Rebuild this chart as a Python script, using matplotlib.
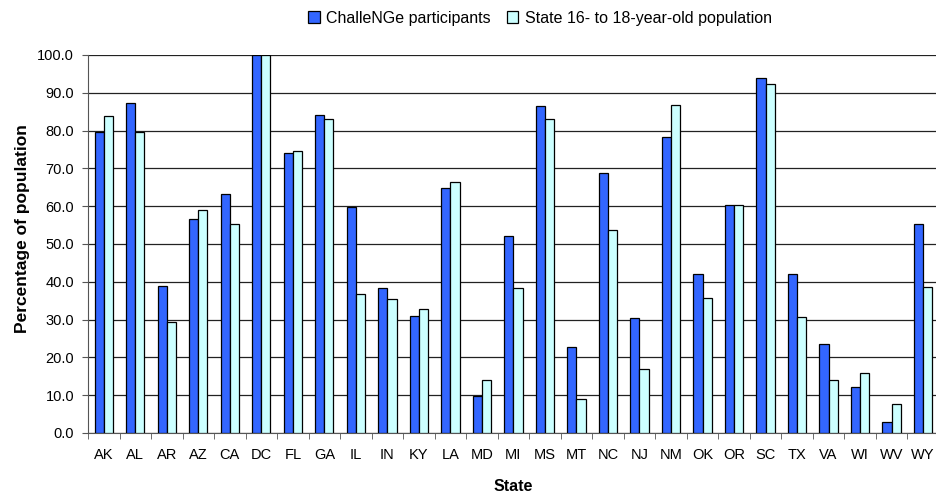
import matplotlib.pyplot as plt
import numpy as np

plt.rcParams['font.family'] = ['Liberation Sans', 'DejaVu Sans']

states = ['AK', 'AL', 'AR', 'AZ', 'CA', 'DC', 'FL', 'GA', 'IL', 'IN', 'KY', 'LA', 'MD', 'MI',
          'MS', 'MT', 'NC', 'NJ', 'NM', 'OK', 'OR', 'SC', 'TX', 'VA', 'WI', 'WV', 'WY']
participants = [79.5, 87.2, 38.9, 56.7, 63.3, 100.0, 74.1, 84.1, 59.7, 38.4, 30.9, 64.9, 9.9, 52.1,
                86.5, 22.7, 68.8, 30.3, 78.2, 42.0, 60.3, 93.9, 42.0, 23.5, 12.2, 3.0, 55.4]
population = [83.8, 79.5, 29.4, 59.1, 55.4, 100.0, 74.7, 83.1, 36.8, 35.5, 32.8, 66.4, 13.9, 38.3,
              83.1, 8.9, 53.6, 16.8, 86.7, 35.8, 60.3, 92.4, 30.6, 14.0, 15.9, 7.6, 38.5]
yticks = np.arange(0, 101, 10)

fig = plt.figure(figsize=(9.37, 4.95), dpi=100)
ax = fig.add_axes([88 / 937, 1 - 433 / 495, 1 - 88 / 937 + 0.002, (433 - 55) / 495])

x = np.arange(len(states))
w = 0.29
ax.bar(x - w / 2, participants, w, color='#3366FF', edgecolor='black', linewidth=0.9,
       label='ChalleNGe participants', zorder=3)
ax.bar(x + w / 2, population, w, color='#CCFFFF', edgecolor='black', linewidth=0.9,
       label='State 16- to 18-year-old population', zorder=3)

ax.set_xlim(-0.5, len(states) - 0.5)
ax.set_ylim(0, 100)
ax.set_yticks(yticks)
ax.set_yticklabels(['%.1f' % v for v in yticks], fontsize=10.5)
ax.yaxis.grid(True, color='#222222', linewidth=0.9, zorder=0)
ax.set_xticks(x)
ax.set_xticklabels(states, fontsize=10.5)
ax.set_xticks(np.arange(-0.5, len(states), 1), minor=True)
ax.tick_params(axis='x', which='major', length=0, pad=11)
ax.tick_params(axis='x', which='minor', length=4, color='#555555')
ax.tick_params(axis='y', length=4, color='#555555', pad=6)

for s in ['top', 'right']:
    ax.spines[s].set_visible(False)
ax.spines['left'].set_color('#555555')
ax.spines['bottom'].set_color('#555555')

ax.set_ylabel('Percentage of population', fontsize=12.5, fontweight='bold')
ax.yaxis.set_label_coords(-0.068, 0.542)
ax.set_xlabel('State', fontsize=11.5, fontweight='bold', labelpad=12)

fig.legend(loc='center', bbox_to_anchor=(0.576, 0.963), ncol=2, frameon=False, fontsize=11.5,
           handlelength=0.75, handleheight=0.75, handletextpad=0.4, columnspacing=1.0)

fig.savefig('out.png', dpi=100)
